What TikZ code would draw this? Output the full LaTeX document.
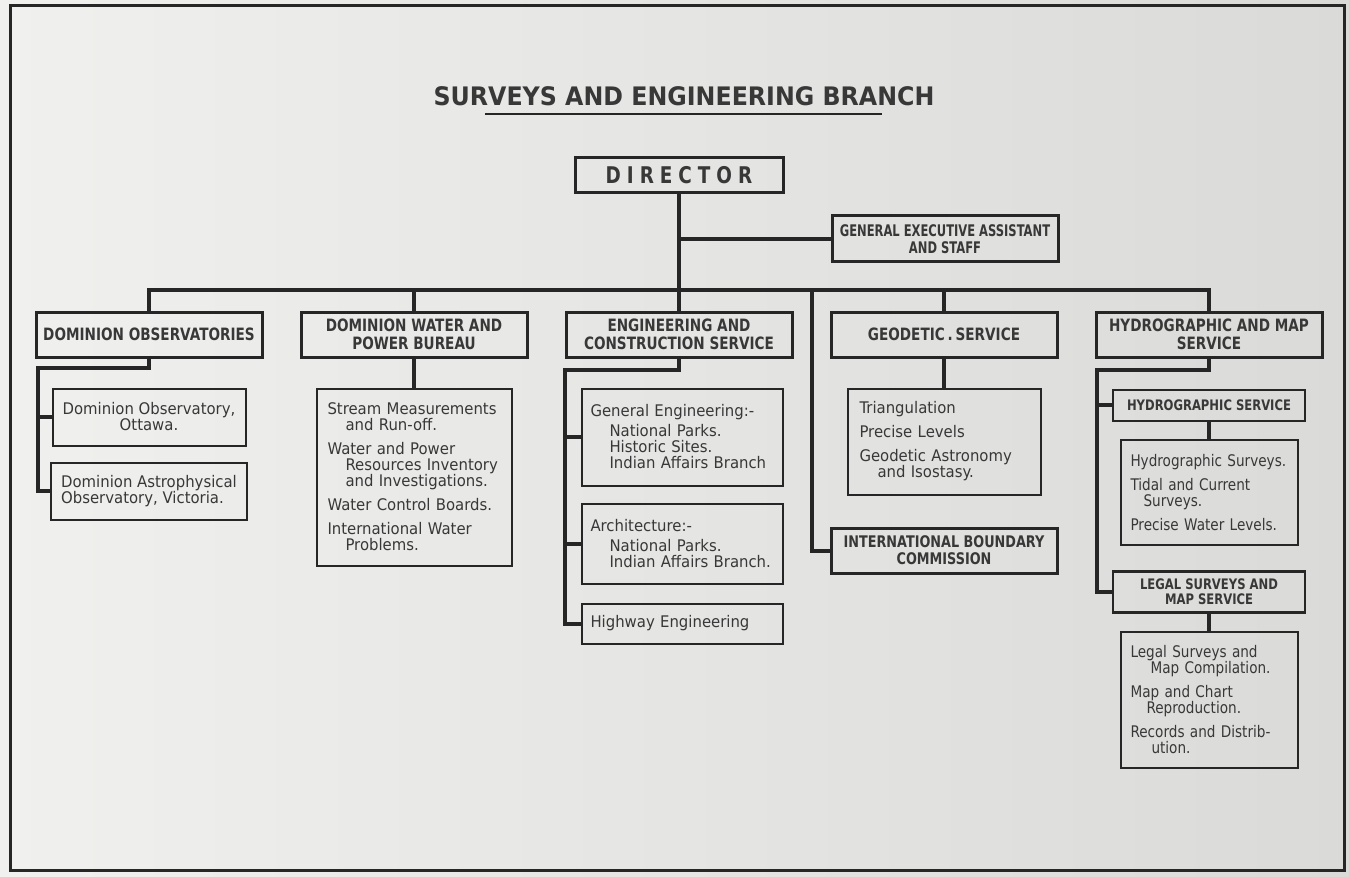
\documentclass[tikz,border=0pt]{standalone}
\usepackage{fontspec}
\setmainfont{DejaVu Sans}
\newfontfamily\bodyfont[FakeStretch=0.93]{DejaVu Sans}
\newfontfamily\slimfont[FakeStretch=0.85]{DejaVu Sans}
\newfontfamily\headfont[FakeStretch=0.8]{DejaVu Sans}
\newfontfamily\tightfont[FakeStretch=0.72]{DejaVu Sans}
\usetikzlibrary{positioning}
\definecolor{ink}{HTML}{262626}
\definecolor{txt}{HTML}{383838}
\definecolor{paperL}{HTML}{F0F0EE}
\definecolor{paperR}{HTML}{DADAD8}
\hyphenpenalty=10000

\begin{document}
\begin{tikzpicture}[
    x=1pt, y=-1pt,
    node distance=29pt and 36pt,
    link/.style={draw=ink, line width=4pt},
    unitbox/.style={draw=ink, line width=3pt, text=txt, align=center, inner sep=2pt,
        minimum width=226pt, minimum height=45pt,
        font=\headfont\bfseries\fontsize{17}{18}\selectfont},
    secbox/.style={draw=ink, line width=2.5pt, text=txt, align=center, inner sep=2pt,
        minimum width=192pt, font=\headfont\bfseries\fontsize{14.5}{15}\selectfont},
    leafbox/.style={draw=ink, line width=2pt, text=txt, inner sep=0pt, inner xsep=10pt,
        font=\bodyfont\fontsize{16}{16}\selectfont},
    listbox/.style={leafbox, align=left}
]
    \useasboundingbox (0,0) rectangle (1349,877);
    \fill[left color=paperL, right color=paperR] (0,0) rectangle (1349,877);
    \draw[ink, line width=3pt] (10,6) rectangle (1344,870);

    % title
    \node (title) at (684,96) [text=txt, inner sep=0pt,
        font=\bodyfont\bfseries\fontsize{25.5}{26}\selectfont] {SURVEYS AND ENGINEERING BRANCH};
    \draw[ink, line width=2.2pt] ([shift={(52,8)}]title.south west) -- ([shift={(-53,8)}]title.south east);

    % top
    \node (dir) at (679,175.5) [unitbox, minimum width=208pt, minimum height=35pt,
        font=\headfont\bfseries\fontsize{23}{23}\selectfont\addfontfeature{LetterSpace=26}] {DIRECTOR};
    \node (gea) at (945,239) [unitbox, minimum height=46pt,
        font=\tightfont\bfseries\fontsize{16}{17}\selectfont] {GENERAL EXECUTIVE ASSISTANT\\AND STAFF};

    % branches
    \node (do) at (149,334.5) [unitbox] {DOMINION OBSERVATORIES};
    \node (dwpb) [unitbox, right=of do] {DOMINION WATER AND\\POWER BUREAU};
    \node (ecs) [unitbox, right=of dwpb] {ENGINEERING AND\\CONSTRUCTION SERVICE};
    \node (gs) [unitbox, right=of ecs] {GEODETIC\,.\,SERVICE};
    \node (hms) [unitbox, right=of gs] {HYDROGRAPHIC AND MAP\\SERVICE};

    % observatories
    \node (obsA) [leafbox, below=of do, align=center, minimum width=193pt, minimum height=57pt]
        {Dominion Observatory,\\Ottawa.};
    \node (obsB) [leafbox, below=15pt of obsA, align=left, minimum width=193pt, minimum height=57pt]
        {Dominion Astrophysical\\Observatory, Victoria.};

    % water and power
    \node (water) [listbox, below=of dwpb, inner xsep=11pt, text width=173pt, minimum height=177pt] {%
        Stream Measurements\\
        \hspace*{18pt}and Run-off.\\[8pt]
        Water and Power\\
        \hspace*{18pt}Resources Inventory\\
        \hspace*{18pt}and Investigations.\\[8pt]
        Water Control Boards.\\[8pt]
        International Water\\
        \hspace*{18pt}Problems.};

    % engineering
    \node (geneng) [listbox, below=of ecs, xshift=3pt, inner xsep=9pt, text width=183pt, minimum height=97pt] {%
        General Engineering:-\\[4pt]
        \hspace*{19pt}National Parks.\\
        \hspace*{19pt}Historic Sites.\\
        \hspace*{19pt}Indian Affairs Branch};
    \node (arch) [listbox, below=16pt of geneng, inner xsep=9pt, text width=183pt, minimum height=80pt] {%
        Architecture:-\\[4pt]
        \hspace*{19pt}National Parks.\\
        \hspace*{19pt}Indian Affairs Branch.};
    \node (hwy) [listbox, below=18pt of arch, inner xsep=9pt, text width=183pt, minimum height=40pt] {Highway Engineering};

    % geodetic
    \node (geod) [listbox, below=of gs, inner xsep=12pt, text width=169pt, minimum height=106pt] {%
        Triangulation\\[8pt]
        Precise Levels\\[8pt]
        Geodetic Astronomy\\
        \hspace*{18pt}and Isostasy.};
    \node (ibc) [unitbox, below=31pt of geod, font=\headfont\bfseries\fontsize{16}{17}\selectfont]
        {INTERNATIONAL BOUNDARY\\COMMISSION};

    % hydrographic and map
    \node (hs) [secbox, below=30pt of hms, minimum height=31pt] {HYDROGRAPHIC SERVICE};
    \node (hydro) [listbox, below=17pt of hs, text width=157pt, minimum height=105pt,
        font=\slimfont\fontsize{16}{16}\selectfont] {%
        Hydrographic Surveys.\\[8pt]
        Tidal and Current\\
        \hspace*{13pt}Surveys.\\[8pt]
        Precise Water Levels.};
    \node (lsms) [secbox, below=24pt of hydro, minimum height=41pt] {LEGAL SURVEYS AND\\MAP SERVICE};
    \node (legal) [listbox, below=17pt of lsms, text width=157pt, minimum height=136pt,
        font=\slimfont\fontsize{16}{16}\selectfont] {%
        Legal Surveys and\\
        \hspace*{20pt}Map Compilation.\\[8pt]
        Map and Chart\\
        \hspace*{16pt}Reproduction.\\[8pt]
        Records and Distrib-\\
        \hspace*{21pt}ution.};

    % connectors
    \coordinate (bus) at (679,290);
    \coordinate (ibcdrop) at (812,290);
    \coordinate (dospine) at (38,368);
    \coordinate (ecsspine) at (565,370);
    \coordinate (hmsspine) at (1097,370);

    \draw[link] (dir.south) -- (bus);
    \draw[link] (dir.south |- gea.west) -- (gea.west);
    \draw[link] (do.north) |- (bus) -| (hms.north);
    \foreach \n in {dwpb,ecs,gs}
        \draw[link] (\n.north) -- (\n.north |- bus);
    \draw[link] (ibcdrop) |- (ibc.west);

    \draw[link] (do.south) |- (dospine) |- (obsB.west);
    \draw[link] (dospine |- obsA.west) -- (obsA.west);

    \draw[link] (dwpb.south) -- (water.north);

    \draw[link] (ecs.south) |- (ecsspine) |- (hwy.west);
    \foreach \n in {geneng,arch}
        \draw[link] (ecsspine |- \n.west) -- (\n.west);

    \draw[link] (gs.south) -- (geod.north);

    \draw[link] (hms.south) |- (hmsspine) |- (lsms.west);
    \draw[link] (hmsspine |- hs.west) -- (hs.west);
    \draw[link] (hs.south) -- (hydro.north);
    \draw[link] (lsms.south) -- (legal.north);
\end{tikzpicture}
\end{document}
